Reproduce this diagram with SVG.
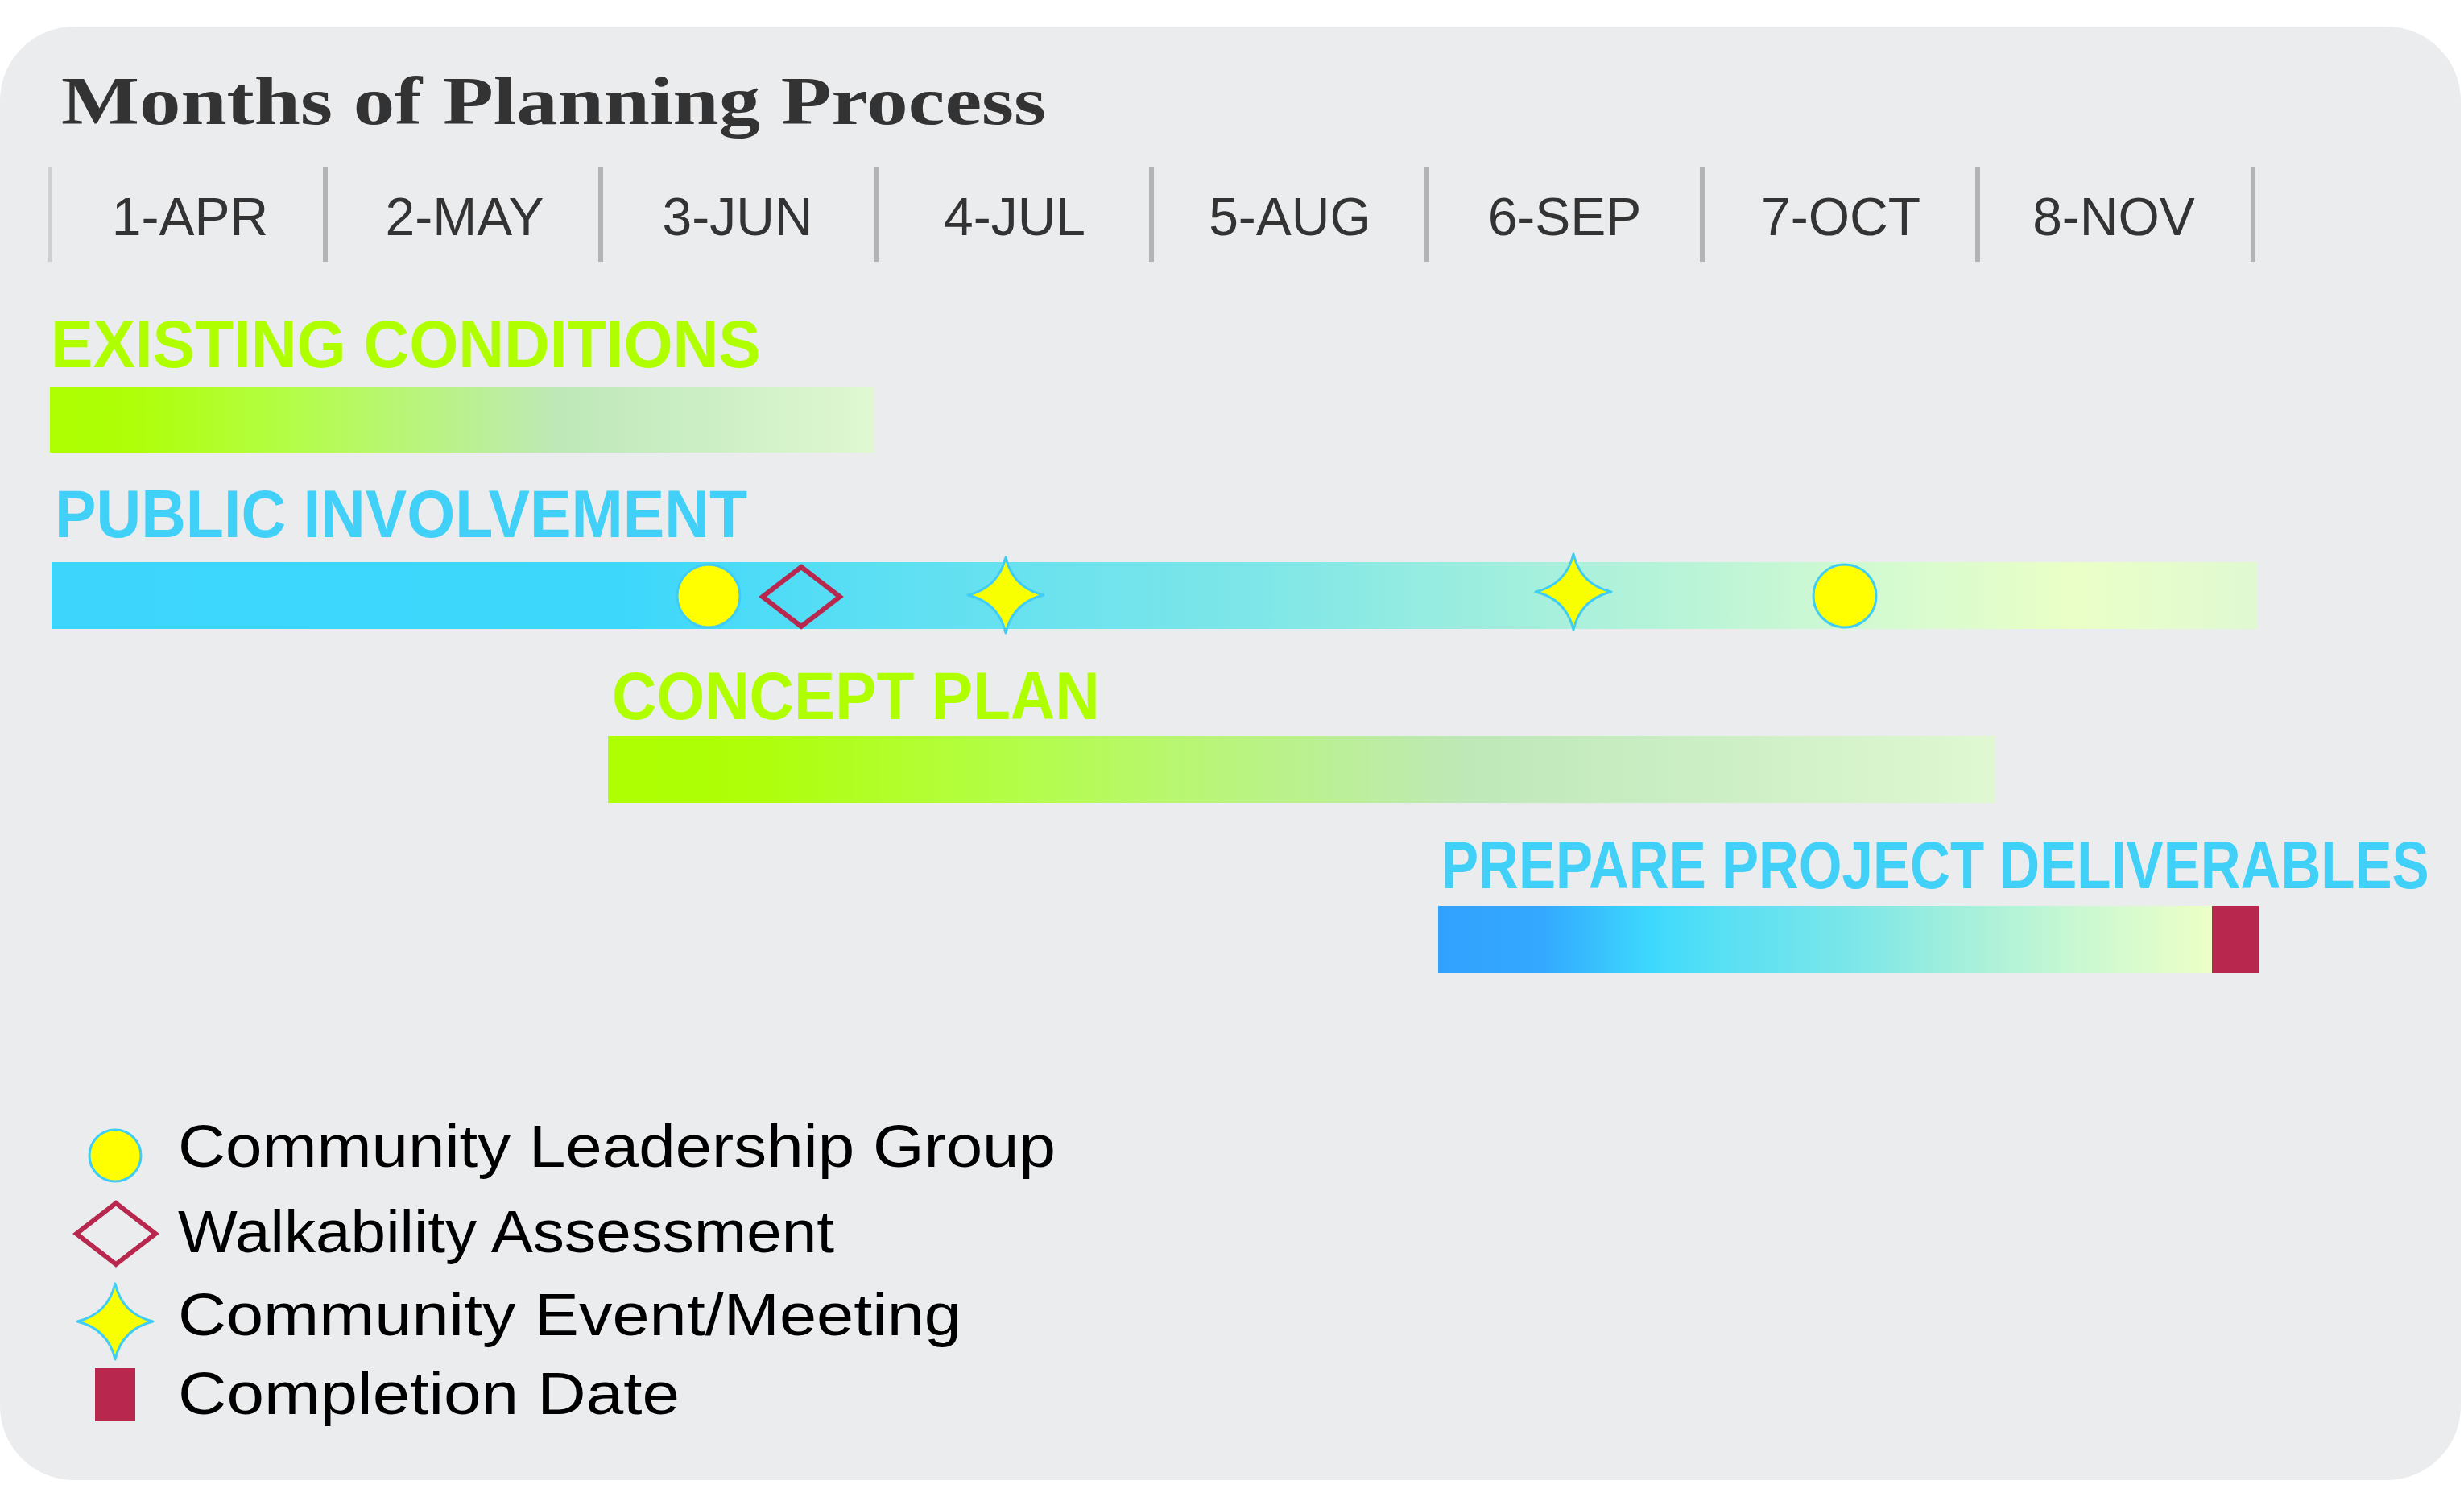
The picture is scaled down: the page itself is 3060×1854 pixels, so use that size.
<svg xmlns="http://www.w3.org/2000/svg" width="3060" height="1854" viewBox="0 0 3060 1854">
<style>
.title{font-family:"Liberation Serif","DejaVu Serif",serif;font-weight:bold;font-size:84px;fill:#333333}
.month{font-family:"Liberation Sans",Arial,sans-serif;font-size:66px;fill:#333333;text-anchor:middle}
.tick{stroke:#b3b3b3;stroke-width:6}
.tick0{stroke:#cfcfcf;stroke-width:6}
.hd{font-family:"Liberation Sans",Arial,sans-serif;font-weight:bold;font-size:84px}
.green{fill:#b0ff00}
.blue{fill:#40d0f8}
.lg{font-family:"Liberation Sans",Arial,sans-serif;font-size:74px;fill:#000000}
.dot{fill:#ffff00;stroke:#3fcdf5;stroke-width:3}
.star{fill:#f8ff00;stroke:#3fcdf5;stroke-width:3;stroke-linejoin:round}
.dia{fill:none;stroke:#b8284e;stroke-width:6;stroke-linejoin:miter}
.done{fill:#b8284e}
</style>
<defs>
<linearGradient id="gGreen" x1="0" y1="0" x2="1" y2="0">
<stop offset="0" stop-color="#adff00"/>
<stop offset="0.1" stop-color="#aeff08"/>
<stop offset="0.3" stop-color="#b4fd4a"/>
<stop offset="0.45" stop-color="#b9f47e"/>
<stop offset="0.62" stop-color="#bee8b8"/>
<stop offset="0.8" stop-color="#cdefc6"/>
<stop offset="1" stop-color="#dff8d1"/>
</linearGradient>
<linearGradient id="gPublic" x1="0" y1="0" x2="1" y2="0">
<stop offset="0" stop-color="#3dd5fb"/>
<stop offset="0.26" stop-color="#3dd7fc"/>
<stop offset="0.375" stop-color="#5cdff3"/>
<stop offset="0.546" stop-color="#7ee6e8"/>
<stop offset="0.653" stop-color="#9eeede"/>
<stop offset="0.76" stop-color="#bff5d6"/>
<stop offset="0.83" stop-color="#d4fad0"/>
<stop offset="0.917" stop-color="#eaffc7"/>
<stop offset="1" stop-color="#e0f9d2"/>
</linearGradient>
<linearGradient id="gPrep" x1="0" y1="0" x2="1" y2="0">
<stop offset="0" stop-color="#32a2fe"/>
<stop offset="0.133" stop-color="#33a8fe"/>
<stop offset="0.273" stop-color="#3dd8fd"/>
<stop offset="0.353" stop-color="#55dff5"/>
<stop offset="0.528" stop-color="#7ae6e9"/>
<stop offset="0.673" stop-color="#a3efdc"/>
<stop offset="0.82" stop-color="#c8f8d2"/>
<stop offset="1" stop-color="#edffc6"/>
</linearGradient>
<path id="starShape" d="M0,-47 C6,-22 22,-6 47,0 C22,6 6,22 0,47 C-6,22 -22,6 -47,0 C-22,-6 -6,-22 0,-47 Z"/>
</defs>

<rect x="0" y="0" width="3060" height="1854" fill="#ffffff"/>
<rect id="panel" x="0" y="33" width="3056" height="1805" rx="92" ry="92" fill="#ebecee"/>

<text id="title" class="title" x="76" y="154" textLength="1223" lengthAdjust="spacingAndGlyphs">Months of Planning Process</text>

<g id="timeline">
<line class="tick0" x1="62" y1="208" x2="62" y2="325"/>
<line class="tick" x1="404" y1="208" x2="404" y2="325"/>
<line class="tick" x1="746" y1="208" x2="746" y2="325"/>
<line class="tick" x1="1088" y1="208" x2="1088" y2="325"/>
<line class="tick" x1="1430" y1="208" x2="1430" y2="325"/>
<line class="tick" x1="1772" y1="208" x2="1772" y2="325"/>
<line class="tick" x1="2114" y1="208" x2="2114" y2="325"/>
<line class="tick" x1="2456" y1="208" x2="2456" y2="325"/>
<line class="tick" x1="2798" y1="208" x2="2798" y2="325"/>
<text class="month" x="236" y="292">1-APR</text>
<text class="month" x="577" y="292">2-MAY</text>
<text class="month" x="916" y="292">3-JUN</text>
<text class="month" x="1260" y="292">4-JUL</text>
<text class="month" x="1602" y="292">5-AUG</text>
<text class="month" x="1943" y="292">6-SEP</text>
<text class="month" x="2286" y="292">7-OCT</text>
<text class="month" x="2625" y="292">8-NOV</text>
</g>

<g id="existing-conditions">
<text class="hd green" transform="translate(63,456) scale(0.935,1)" x="0" y="0" textLength="943" lengthAdjust="spacingAndGlyphs">EXISTING CONDITIONS</text>
<rect x="62" y="480" width="1023" height="82" fill="url(#gGreen)"/>
</g>

<g id="public-involvement">
<text class="hd blue" transform="translate(68,667) scale(0.912,1)" x="0" y="0" textLength="943" lengthAdjust="spacingAndGlyphs">PUBLIC INVOLVEMENT</text>
<rect x="64" y="698" width="2740" height="83" fill="url(#gPublic)"/>
</g>

<g id="concept-plan">
<text class="hd green" transform="translate(760,893) scale(0.864,1)" x="0" y="0" textLength="701" lengthAdjust="spacingAndGlyphs">CONCEPT PLAN</text>
<rect x="755" y="914" width="1723" height="83" fill="url(#gGreen)"/>
</g>

<g id="prepare-deliverables">
<text class="hd blue" transform="translate(1790,1103) scale(0.807,1)" x="0" y="0" textLength="1520" lengthAdjust="spacingAndGlyphs">PREPARE PROJECT DELIVERABLES</text>
<rect x="1786" y="1125" width="962" height="83" fill="url(#gPrep)"/>
<rect id="completion-marker" class="done" x="2747" y="1125" width="58" height="83"/>
</g>

<g id="milestones">
<circle id="clg-1" class="dot" cx="880" cy="740" r="39"/>
<path id="walk-1" class="dia" d="M995,704 L1043,741 L995,778 L947,741 Z"/>
<use id="event-1" href="#starShape" class="star" x="1249" y="739"/>
<use id="event-2" href="#starShape" class="star" x="1954" y="735"/>
<circle id="clg-2" class="dot" cx="2291" cy="740" r="39"/>
</g>

<g id="connectors"></g>

<g id="legend">
<g id="legend-clg">
<circle class="dot" cx="143" cy="1435" r="32"/>
<text class="lg" x="221" y="1449" textLength="1090" lengthAdjust="spacingAndGlyphs">Community Leadership Group</text>
</g>
<g id="legend-walk">
<path class="dia" d="M144,1494 L193,1532 L144,1570 L95,1532 Z"/>
<text class="lg" x="221" y="1555" textLength="815" lengthAdjust="spacingAndGlyphs">Walkability Assessment</text>
</g>
<g id="legend-event">
<use href="#starShape" class="star" x="143" y="1641"/>
<text class="lg" x="221" y="1658" textLength="973" lengthAdjust="spacingAndGlyphs">Community Event/Meeting</text>
</g>
<g id="legend-done">
<rect class="done" x="118" y="1699" width="50" height="66"/>
<text class="lg" x="221" y="1756" textLength="623" lengthAdjust="spacingAndGlyphs">Completion Date</text>
</g>
</g>
</svg>
